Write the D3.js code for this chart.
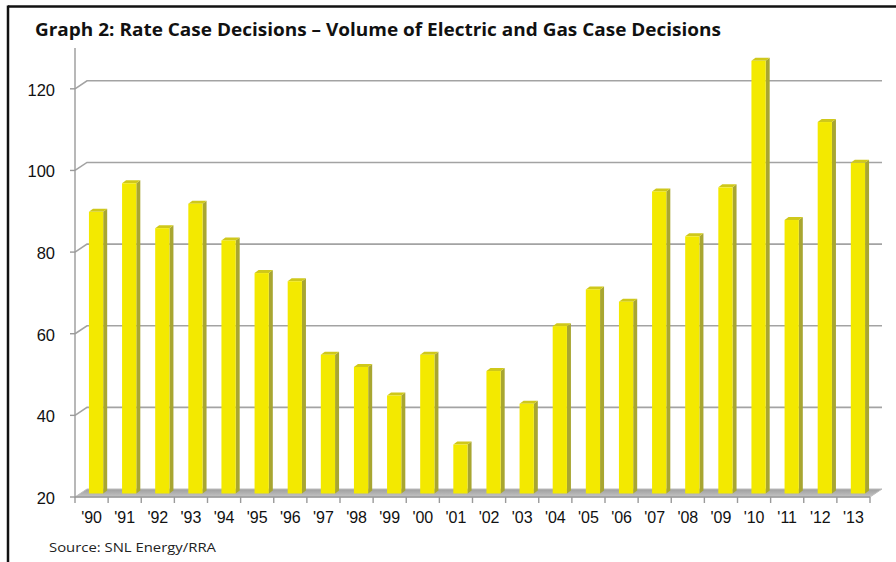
<!DOCTYPE html>
<html><head><meta charset="utf-8">
<script src="https://cdn.jsdelivr.net/npm/d3@7"></script>
<style>html,body{margin:0;padding:0;background:#fff;}svg{display:block;}</style>
</head><body>
<script>
const categories = ["'90","'91","'92","'93","'94","'95","'96","'97","'98","'99","'00","'01","'02","'03","'04","'05","'06","'07","'08","'09","'10","'11","'12","'13"];
const values = [89,96,85,91,82,74,72,54,51,44,54,32,50,42,61,70,67,94,83,95,126,87,111,101];
const yTicks = [20,40,60,80,100,120];
const title = "Graph 2: Rate Case Decisions \u2013 Volume of Electric and Gas Case Decisions";
const source = "Source: SNL Energy/RRA";

const W = 896, H = 562;
const svg = d3.select("body").append("svg").attr("width", W).attr("height", H);

// frame
svg.append("line").attr("x1",8).attr("x2",W).attr("y1",6.5).attr("y2",6.5).attr("stroke","#111").attr("stroke-width",2.5);
svg.append("line").attr("x1",8).attr("x2",8).attr("y1",5.5).attr("y2",H).attr("stroke","#111").attr("stroke-width",2.5);

// title
svg.append("text").attr("x",35).attr("y",36).text(title)
  .attr("font-family","'Open Sans', sans-serif").attr("font-weight",700).attr("font-size",17.5)
  .attr("fill","#111").attr("textLength",686).attr("lengthAdjust","spacingAndGlyphs");

const left = 75, right = 870, bottom = 497;
const depthX = 12, depthY = -8;
const y = d3.scaleLinear().domain([20,130]).range([bottom, 48]);
const x = d3.scaleBand().domain(categories).range([left, right]).paddingInner(0.57).paddingOuter(0.285);
const step = x.step();

// back gridlines with diagonals
const g = svg.append("g");
yTicks.filter(v => v > 20).forEach(v => {
  const yy = y(v);
  g.append("path").attr("d", `M${left},${yy} L${left+depthX},${yy+depthY} L${right+depthX},${yy+depthY}`)
    .attr("fill","none").attr("stroke","#a3a3a3").attr("stroke-width",1.6);
});

// floor
const floorGrad = svg.append("defs").append("linearGradient").attr("id","floorG").attr("x1",0).attr("x2",0).attr("y1",0).attr("y2",1);
floorGrad.append("stop").attr("offset","0%").attr("stop-color","#9e9e9e");
floorGrad.append("stop").attr("offset","100%").attr("stop-color","#c4c4c4");
svg.append("path").attr("d", `M${left},${bottom} L${left+depthX},${bottom+depthY} L${right+depthX},${bottom+depthY} L${right},${bottom} Z`)
  .attr("fill","url(#floorG)").attr("stroke","#bdbdbd").attr("stroke-width",1);

// y axis
svg.append("line").attr("x1",left).attr("x2",left).attr("y1",y(130)).attr("y2",bottom+1).attr("stroke","#9a9a9a").attr("stroke-width",1.4);
const yAxis = svg.append("g");
yTicks.forEach(v => {
  yAxis.append("line").attr("x1",70).attr("x2",left).attr("y1",y(v)).attr("y2",y(v)).attr("stroke","#9a9a9a").attr("stroke-width",1.4);
  yAxis.append("text").attr("x",55).attr("y",y(v)+1).attr("text-anchor","end").attr("dominant-baseline","central")
    .attr("font-family","'Liberation Sans', Arial, sans-serif").attr("font-size",16.5).attr("fill","#111").text(v);
});

// x axis
svg.append("line").attr("x1",left).attr("x2",right).attr("y1",bottom).attr("y2",bottom).attr("stroke","#9a9a9a").attr("stroke-width",1.4);
for (let k = 0; k <= categories.length; k++) {
  const xx = left + k*step;
  svg.append("line").attr("x1",xx).attr("x2",xx).attr("y1",bottom).attr("y2",bottom+6).attr("stroke","#9a9a9a").attr("stroke-width",1.4);
}
categories.forEach(c => {
  svg.append("text").attr("x", x(c) + x.bandwidth()/2).attr("y", 522.5).attr("text-anchor","middle")
    .attr("font-family","'Liberation Sans', Arial, sans-serif").attr("font-size",16).attr("fill","#111").text(c);
});

// bars (at mid depth)
const sx = 4.5, sy = -3.5, bd = 4, bdy = -3;
const bw = x.bandwidth();
const bars = svg.append("g");
categories.forEach((c,i) => {
  const v = values[i];
  const xf = x(c) + sx;
  const yt = y(v) + sy;
  const yb = bottom + sy;
  bars.append("path").attr("d", `M${xf+bw},${yt} L${xf+bw+bd},${yt+bdy} L${xf+bw+bd},${yb+bdy} L${xf+bw},${yb} Z`).attr("fill","#a8a631");
  bars.append("path").attr("d", `M${xf},${yt} L${xf+bd},${yt+bdy} L${xf+bw+bd},${yt+bdy} L${xf+bw},${yt} Z`).attr("fill","#cfc81a");
  bars.append("rect").attr("x",xf).attr("y",yt).attr("width",bw).attr("height",yb-yt).attr("fill","#f3e900");
});

// source
svg.append("text").attr("x",49).attr("y",552).text(source)
  .attr("font-family","'Open Sans', sans-serif").attr("font-size",13).attr("fill","#222")
  .attr("textLength",167).attr("lengthAdjust","spacingAndGlyphs");
</script>
</body></html>
